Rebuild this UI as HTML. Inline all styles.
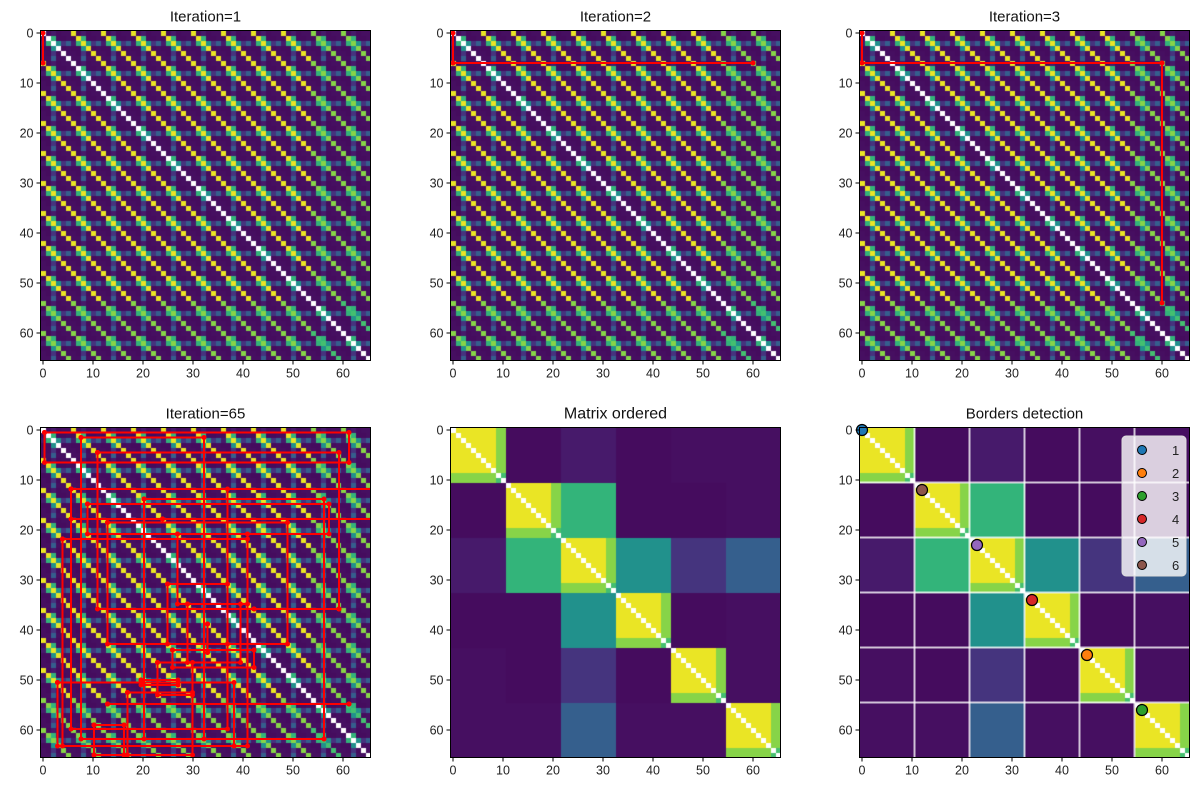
<!DOCTYPE html>
<html><head><meta charset="utf-8"><style>
body{margin:0;background:#fff;width:1200px;height:791px;overflow:hidden;font-family:"Liberation Sans",sans-serif;}
#root{position:relative;width:1200px;height:791px;}
canvas{position:absolute;}
svg{position:absolute;left:0;top:0;}
</style></head><body>
<div id="root">
<svg id="ov" width="1200" height="791"></svg>
</div>
<script>
// ---- data ----
const nClusters = 6;
const clusterSize = 11;
const withinInner = 0.97;
const withinEdge = 0.82;
const withinCorner = 0.7;
// cross-cluster similarity (cluster i vs j)
const clusterPairs = [
 [1.00,0.03,0.07,0.03,0.04,0.04],
 [0.03,1.00,0.65,0.03,0.03,0.04],
 [0.07,0.65,1.00,0.50,0.15,0.30],
 [0.03,0.03,0.50,1.00,0.03,0.04],
 [0.04,0.03,0.15,0.03,1.00,0.04],
 [0.04,0.04,0.30,0.04,0.04,1.00]
];
const ticks = [0,10,20,30,40,50,60];
const titles = ["Iteration=1","Iteration=2","Iteration=3","Iteration=65","Matrix ordered","Borders detection"];
const borders = [10.5,21.5,32.5,43.5,54.5];
const borderPoints = [0,12,23,34,45,56];
const borderPointColors = ["#1f77b4","#8c564b","#9467bd","#d62728","#ff7f0e","#2ca02c"];
const legendLabels = ["1","2","3","4","5","6"];
const legendColors = ["#1f77b4","#ff7f0e","#2ca02c","#d62728","#9467bd","#8c564b"];
const path1 = [[0,0],[0,6]];
const path2 = [[0,0],[0,6],[60,6]];
const path3 = [[0,0],[0,6],[60,6],[60,54]];
const rects65 = [
 [0.3,0.5,61.2,6.5],[7.6,1.5,32.2,61.8],[10.9,4.5,59.2,35.8],[5.6,11.8,65.9,17.8],
 [5.6,11.8,36.9,59.8],[8.9,14.8,57.2,20.8],[20.2,13.8,56.2,61.8],[12.9,18.5,48.9,42.8],
 [3.9,21.8,40.9,63.2],[26.9,20.8,40.9,34.8],[24.9,30.8,36.9,42.8],[28.9,34.8,39.5,46.5],
 [42.2,35.8,59.2,35.8],[12.9,54.8,61.2,54.8],[2.9,50.5,38.2,63.2],[16.9,52.5,29.9,65],
 [10.2,59,16.2,65],[22.9,46.5,29.9,53],[25.9,44,42.2,47.5],[19.6,50,27,51],[23.9,17.8,65.9,17.8],
 [32.9,38.8,32.9,44.5]
];
// ---- geometry ----
const N = nClusters*clusterSize;
const panels = [[40.5,30.5],[450.5,30.5],[859.5,30.5],[40.5,427.5],[450.5,427.5],[859.5,427.5]];
const S = 5;
const stops = ["#440154","#482475","#414487","#355f8d","#2a788e","#21918c","#22a884","#44bf70","#7ad151","#bddf26","#fde725"].map(h=>[parseInt(h.substr(1,2),16),parseInt(h.substr(3,2),16),parseInt(h.substr(5,2),16)]);
function viridis(v){v=Math.max(0,Math.min(1,v));const t=v*10,i=Math.min(9,Math.floor(t)),f=t-i;const a=stops[i],b=stops[i+1];return `rgb(${a.map((c,k)=>Math.round(c+(b[k]-c)*f)).join(',')})`;}
function ordVal(i,j){
 if(i===j) return null;
 const ci=Math.floor(i/clusterSize),cj=Math.floor(j/clusterSize);
 if(ci!==cj) return clusterPairs[ci][cj];
 const ei=(i%clusterSize)>=clusterSize-2, ej=(j%clusterSize)>=clusterSize-2;
 return (ei&&ej)?withinCorner:(ei||ej)?withinEdge:withinInner;
}
function perm(i){return (i%nClusters)*clusterSize+Math.floor(i/nClusters);}
function unVal(i,j){return i===j?null:ordVal(perm(i),perm(j));}
const root=document.getElementById('root');
const ov=document.getElementById('ov');
const NS="http://www.w3.org/2000/svg";
function mk(tag,at,parent){const e=document.createElementNS(NS,tag);for(const k in at)e.setAttribute(k,at[k]);(parent||ov).appendChild(e);return e;}
const defs=mk('defs',{});
panels.forEach((p,k)=>{
 const [L,T]=p;
 const cv=document.createElement('canvas');
 
 
 cv.width=N*S;cv.height=N*S;cv.style.left=L+'px';cv.style.top=T+'px';
 root.insertBefore(cv,ov);
 const c=cv.getContext('2d');
 const f=k<4?unVal:ordVal;
 for(let i=0;i<N;i++)for(let j=0;j<N;j++){const v=f(i,j);c.fillStyle=v===null?'#ffffff':viridis(v);c.fillRect(j*S,i*S,S,S);}
 const cp=mk('clipPath',{id:'clip'+k},defs);
 mk('rect',{x:L,y:T,width:N*S,height:N*S},cp);
 const g=mk('g',{});
 
 
 const cg=mk('g',{'clip-path':'url(#clip'+k+')'},g);
 const X=v=>L+(v+0.5)*S, Y=v=>T+(v+0.5)*S;
 const red=pts=>{const pl=mk('polyline',{points:pts.map(q=>X(q[0])+','+Y(q[1])).join(' '),fill:'none',stroke:'#ff0000','stroke-width':2},cg);pts.forEach(q=>mk('circle',{cx:X(q[0]),cy:Y(q[1]),r:2.5,fill:'#ff0000'},cg));};
 if(k===0)red(path1);
 if(k===1)red(path2);
 if(k===2)red(path3);
 if(k===3)rects65.forEach(r=>red([[r[0],r[1]],[r[2],r[1]],[r[2],r[3]],[r[0],r[3]],[r[0],r[1]]]));
 if(k===5){
  borders.forEach(b=>{
   const h=mk('line',{x1:L,x2:L+N*S,y1:Y(b),y2:Y(b),stroke:'#ffffff','stroke-opacity':0.75,'stroke-width':2},cg);
   
   const v=mk('line',{y1:T,y2:T+N*S,x1:X(b),x2:X(b),stroke:'#ffffff','stroke-opacity':0.75,'stroke-width':2},cg);
   
  });
  borderPoints.forEach((b,i)=>{const c2=mk('circle',{cx:X(b),cy:Y(b),r:5.5,fill:borderPointColors[i],stroke:'#000','stroke-width':1.2},g);});
  const lg=mk('g',{},g);
  mk('rect',{x:1122,y:436,width:64,height:140,rx:4,fill:'#ffffff','fill-opacity':0.8,stroke:'#dddddd'},lg);
  legendLabels.forEach((t,i)=>{
   mk('circle',{cx:1142,cy:450+i*23,r:4.5,fill:legendColors[i],stroke:'#000','stroke-width':1},lg);
   const tx=mk('text',{x:1172,y:455+i*23,'font-size':13,fill:'#222'},lg);tx.textContent=t;
   
  });
 }
 mk('rect',{x:L,y:T,width:N*S,height:N*S,fill:'none',stroke:'#000','stroke-width':1},g);
 ticks.forEach(t=>{
  mk('line',{x1:X(t),x2:X(t),y1:T+N*S,y2:T+N*S+4,stroke:'#000'},g);
  const tx=mk('text',{x:X(t),y:T+N*S+17,'font-size':12.5,'text-anchor':'middle',fill:'#222'},g);tx.textContent=t;
  
  mk('line',{x1:L-4,x2:L,y1:Y(t),y2:Y(t),stroke:'#000'},g);
  const ty=mk('text',{x:L-7,y:Y(t)+4.5,'font-size':12.5,'text-anchor':'end',fill:'#222'},g);ty.textContent=t;
  
 });
 const tt=mk('text',{x:L+N*S/2,y:T-9,'font-size':k===4?16:15,'text-anchor':'middle',fill:'#111'},g);tt.textContent=titles[k];
 
});
</script>
</body></html>
